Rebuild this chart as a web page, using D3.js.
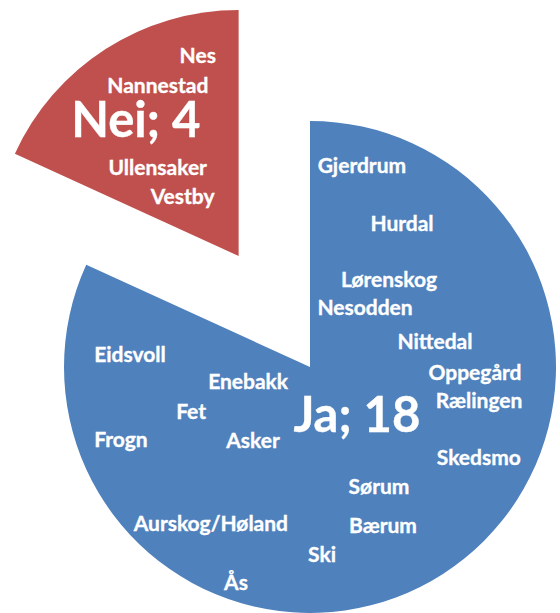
<!DOCTYPE html>
<html>
<head>
<meta charset="utf-8">
<script src="https://cdn.jsdelivr.net/npm/d3@7"></script>
<style>
  body { margin: 0; background: #fff; }
  svg { display: block; }
  text { font-family: Lato, "Open Sans", sans-serif; font-weight: bold; fill: #fff; stroke: #fff; stroke-width: 0.35px; }
</style>
</head>
<body>
<svg id="chart" width="560" height="613"></svg>
<script>
// data
var answers = ["Ja", "Nei"];
var counts = [18, 4];
var jaKommuner = ["Gjerdrum", "Hurdal", "Lørenskog", "Nesodden", "Nittedal", "Oppegård",
                  "Rælingen", "Skedsmo", "Sørum", "Bærum", "Ski", "Ås", "Aurskog/Høland",
                  "Asker", "Frogn", "Fet", "Enebakk", "Eidsvoll"];
var neiKommuner = ["Nes", "Nannestad", "Ullensaker", "Vestby"];

// label layout: [angle in degrees clockwise from top, fraction of radius]
var jaLabelPos = [[14.4, .848], [32.4, .698], [41.9, .481], [42.5, .331], [78.2, .519], [91.4, .671],
                  [101.0, .700], [117.8, .776], [149.7, .556], [155.2, .707], [176.3, .758], [199.0, .924],
                  [212.6, .748], [218.0, .376], [249.4, .821], [250.1, .514], [257.3, .258], [274.4, .734]];
var neiLabelPos = [[-11.5, .834], [-25.3, .769], [-42.3, .489], [-43.0, .334]];
var totalLabelPos = [[134.4, .267], [-36.7, .700]];

var colors = ["#4f81bd", "#c0504d"];
var kommuner = [jaKommuner, neiKommuner];
var labelPos = [jaLabelPos, neiLabelPos];

var cx = 310, cy = 367, radius = 246, explode = 132;

var svg = d3.select("#chart");
var pie = d3.pie().sort(null);
var arc = d3.arc().innerRadius(0).outerRadius(radius);
var slices = pie(counts);

function polar(a, r) {
  var t = a * Math.PI / 180;
  return [Math.sin(t) * r * radius, -Math.cos(t) * r * radius];
}

var g = svg.selectAll("g.slice")
  .data(slices)
  .enter()
  .append("g")
  .attr("class", "slice")
  .attr("transform", function(d, i) {
    var off = i == 1 ? explode : 0;
    var mid = (d.startAngle + d.endAngle) / 2;
    return "translate(" + (cx + Math.sin(mid) * off) + "," + (cy - Math.cos(mid) * off) + ")";
  });

g.append("path")
  .attr("d", arc)
  .attr("fill", function(d, i) { return colors[i]; });

g.each(function(d, i) {
  var sel = d3.select(this);
  sel.selectAll("text.kommune")
    .data(kommuner[i])
    .enter()
    .append("text")
    .attr("class", "kommune")
    .attr("text-anchor", "middle")
    .attr("dominant-baseline", "central")
    .attr("font-size", 21)
    .attr("x", function(k, j) { return polar(labelPos[i][j][0], labelPos[i][j][1])[0]; })
    .attr("y", function(k, j) { return polar(labelPos[i][j][0], labelPos[i][j][1])[1]; })
    .text(function(k) { return k; });

  var p = polar(totalLabelPos[i][0], totalLabelPos[i][1]);
  sel.append("text")
    .attr("text-anchor", "middle")
    .attr("dominant-baseline", "central")
    .attr("font-size", 49)
    .attr("x", p[0])
    .attr("y", p[1])
    .text(answers[i] + "; " + counts[i]);
});
</script>
</body>
</html>
